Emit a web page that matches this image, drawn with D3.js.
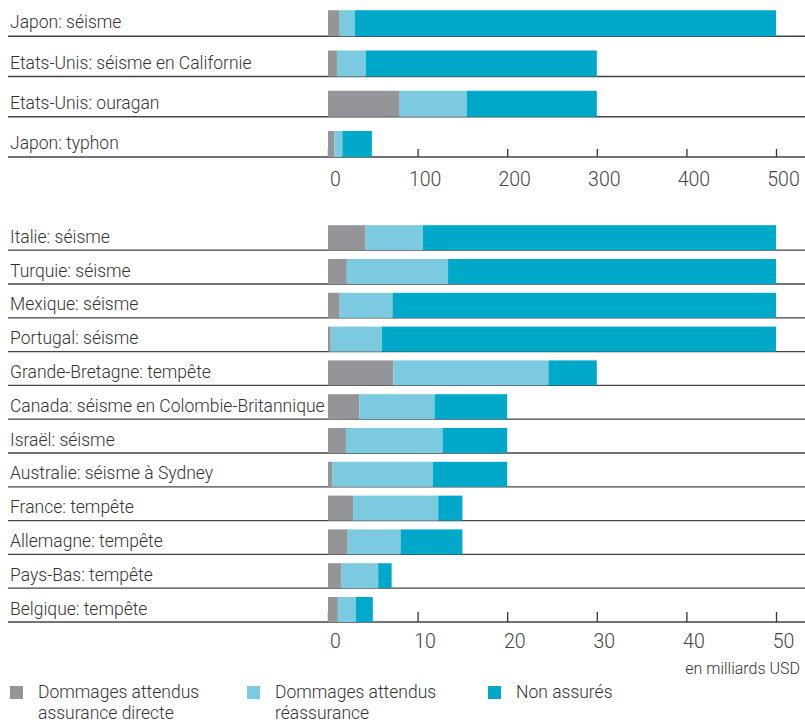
<!DOCTYPE html>
<meta charset="utf-8">
<style>
body { margin: 0; background: #fff; }
svg text { font-family: Roboto, "Liberation Sans", sans-serif; font-weight: 300; fill: #333; }
.rows line { stroke: #444; stroke-width: 1.3; }
.axis line { stroke: #333; stroke-width: 1.3; }
.axis path { display: none; }
</style>
<svg width="805" height="722"></svg>
<script src="https://cdn.jsdelivr.net/npm/d3@7"></script>
<script>

var series = ["Dommages attendus assurance directe", "Dommages attendus réassurance", "Non assurés"];
var legendLines = [["Dommages attendus", "assurance directe"], ["Dommages attendus", "réassurance"], ["Non assurés"]];
var colors = ["#949599", "#7bcae0", "#00a9ca"];

// en milliards USD
var topCats = ["Japon: séisme", "Etats-Unis: séisme en Californie", "Etats-Unis: ouragan", "Japon: typhon"];
var topDirect = [13, 10, 80, 7];
var topReins = [17, 32, 75, 9];
var topNon = [470, 258, 145, 33];
var topTicks = [0, 100, 200, 300, 400, 500];

var botCats = ["Italie: séisme", "Turquie: séisme", "Mexique: séisme", "Portugal: séisme",
  "Grande-Bretagne: tempête", "Canada: séisme en Colombie-Britannique", "Israël: séisme",
  "Australie: séisme à Sydney", "France: tempête", "Allemagne: tempête", "Pays-Bas: tempête",
  "Belgique: tempête"];
var botDirect = [4.2, 2.1, 1.3, 0.3, 7.3, 3.5, 2.0, 0.5, 2.8, 2.2, 1.5, 1.1];
var botReins = [6.4, 11.3, 5.9, 5.7, 17.3, 8.4, 10.8, 11.2, 9.5, 5.9, 4.1, 2.0];
var botNon = [39.4, 36.6, 42.8, 44.0, 5.4, 8.1, 7.2, 8.3, 2.7, 6.9, 1.5, 1.9];
var botTicks = [0, 10, 20, 30, 40, 50];

var svg = d3.select("svg");

function buildRows (cats, a, b, c) {
  return cats.map(function (d, i) { return { cat: d, vals: [a[i], b[i], c[i]] }; });
}

function drawPanel (rows, opts) {
  var g = svg.append("g");
  var x = d3.scaleLinear().domain(opts.domain).range([328, 776]);
  var y = d3.scaleBand().domain(rows.map(function (d) { return d.cat; }))
      .range([opts.top, opts.bottom]).paddingInner(0).paddingOuter(0);
  var step = y.step();

  // row lines
  g.append("g").attr("class", "rows")
    .selectAll("line").data(rows).enter().append("line")
      .attr("x1", 8).attr("x2", 805)
      .attr("y1", function (d) { return y(d.cat) + step; })
      .attr("y2", function (d) { return y(d.cat) + step; });

  // axis
  var axis = d3.axisBottom(x).tickValues(opts.ticks)
      .tickSizeInner(-opts.tickLen).tickSizeOuter(0).tickPadding(opts.pad);
  var ax = g.append("g").attr("class", "axis")
      .attr("transform", "translate(0," + opts.bottom + ")")
      .call(axis);
  ax.selectAll("text")
      .attr("dx", 7)
      .style("font-size", "19.5px")
      .style("font-family", "Roboto, sans-serif")
      .style("font-weight", 300)
      .style("fill", "#444");

  // stacked bars
  var bar = g.append("g").selectAll("g").data(rows).enter().append("g");
  bar.selectAll("rect")
    .data(function (d) {
      var acc = 0;
      return d.vals.map(function (v, k) {
        var s = { k: k, x0: acc, x1: acc + v, cat: d.cat };
        acc += v;
        return s;
      });
    })
    .enter().append("rect")
      .attr("x", function (s) { return x(s.x0); })
      .attr("width", function (s) { return x(s.x1) - x(s.x0); })
      .attr("y", function (s) { return y(s.cat) + step - opts.barH; })
      .attr("height", opts.barH)
      .attr("fill", function (s) { return colors[s.k]; });

  // labels
  g.append("g").selectAll("text").data(rows).enter().append("text")
      .attr("x", 10)
      .attr("y", function (d) { return y(d.cat) + step - opts.barH / 2 + 5; })
      .style("font-size", "17.5px")
      .text(function (d) { return d.cat; });
}

drawPanel(buildRows(topCats, topDirect, topReins, topNon),
  { domain: [0, 500], top: 157 - 4 * 40.25, bottom: 157, barH: 26, ticks: topTicks, tickLen: 8, pad: 15 });

drawPanel(buildRows(botCats, botDirect, botReins, botNon),
  { domain: [0, 50], top: 622 - 12 * 33.8, bottom: 622, barH: 25, ticks: botTicks, tickLen: 10, pad: 12 });

svg.append("text")
  .attr("x", 800).attr("y", 674)
  .attr("text-anchor", "end")
  .style("font-size", "16px")
  .text("en milliards USD");

// legend
var legX = [10, 247, 488];
var leg = svg.append("g").selectAll("g").data(series).enter().append("g")
  .attr("transform", function (d, i) { return "translate(" + legX[i] + ",686)"; });
leg.append("rect").attr("width", 13).attr("height", 13)
  .attr("fill", function (d, i) { return colors[i]; });
leg.append("text")
  .attr("x", 28).attr("y", 12)
  .style("font-size", "17.5px")
  .selectAll("tspan")
  .data(function (d, i) { return legendLines[i]; })
  .enter().append("tspan")
    .attr("x", 28)
    .attr("dy", function (t, j) { return j === 0 ? 0 : 21; })
    .text(function (t) { return t; });

</script>
